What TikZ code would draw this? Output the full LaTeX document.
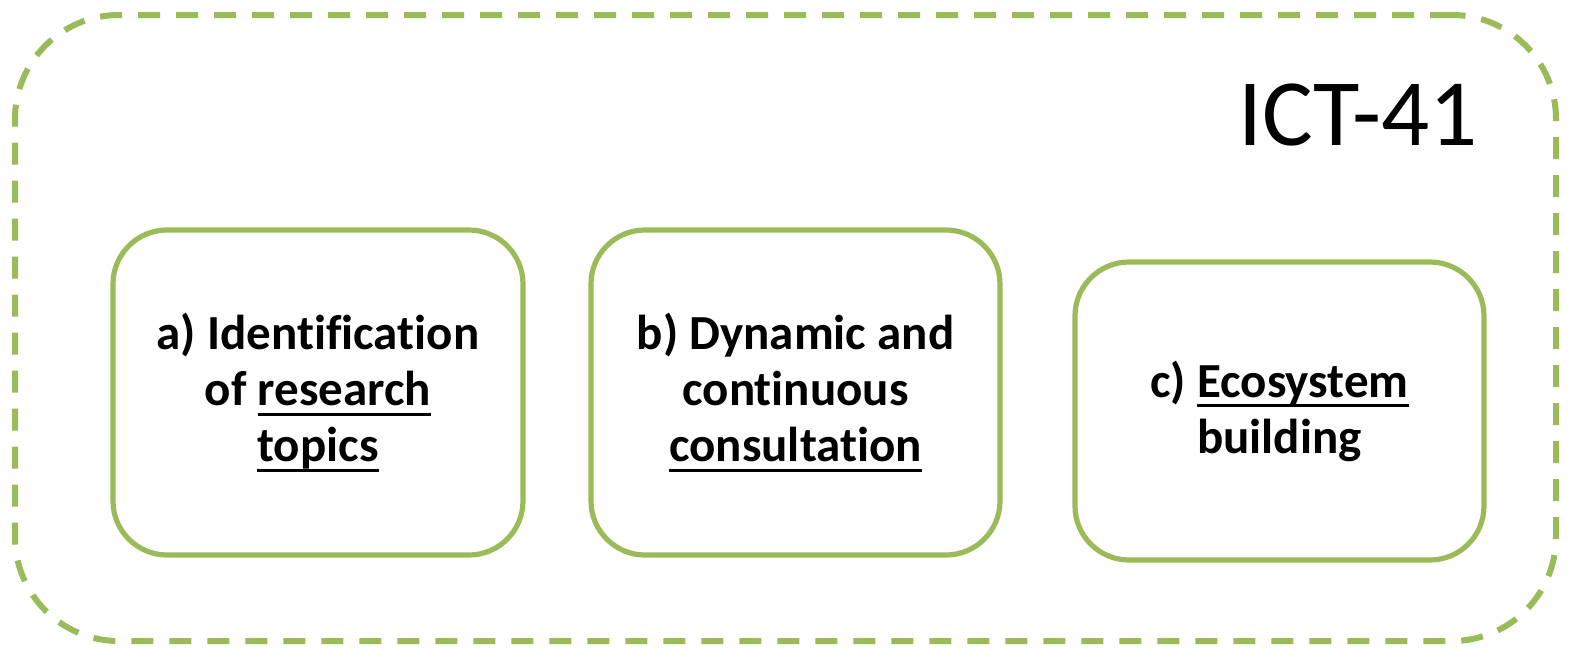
\documentclass[tikz,border=0pt]{standalone}
\usepackage{fontspec}
\setmainfont[Ligatures=NoCommon]{Carlito}
\definecolor{olive}{HTML}{9BBB59}
\newcommand{\myul}[1]{\setbox0\hbox{#1}\rlap{\rule[-5pt]{\wd0}{1.4pt}}\box0}
\tikzset{
  frame/.style={draw=olive, line width=3pt, dash pattern=on 11pt off 8pt, rounded corners=52pt, minimum width=770.5pt, minimum height=313pt, inner sep=0pt},
  card/.style={draw=olive, line width=2.6pt, rounded corners=27pt, inner sep=0pt, align=center, font=\fontsize{24.5}{28}\selectfont\bfseries},
}
\begin{document}
\begin{tikzpicture}[x=0.5pt,y=-0.5pt]
\useasboundingbox (0,0) rectangle (1571,649);
\node[frame] (outer) at (785.5,328) {};
\node[anchor=base east, font=\fontsize{47.5}{50}\selectfont, inner sep=0pt] (title) at (1478,145) {ICT-41};
\node[card, minimum width=205pt, minimum height=162.5pt] (a) at (318,392.5) {a) Identification\\ of \myul{research}\\ \myul{topics}};
\node[card, minimum width=204.5pt, minimum height=162.5pt] (b) at (795.5,392.5) {b) Dynamic and\\ continuous\\ \myul{consultation}};
\node[card, minimum width=204.5pt, minimum height=149pt] (c) at (1279.5,411) {c) \myul{Ecosystem}\\ building};
\end{tikzpicture}
\end{document}
